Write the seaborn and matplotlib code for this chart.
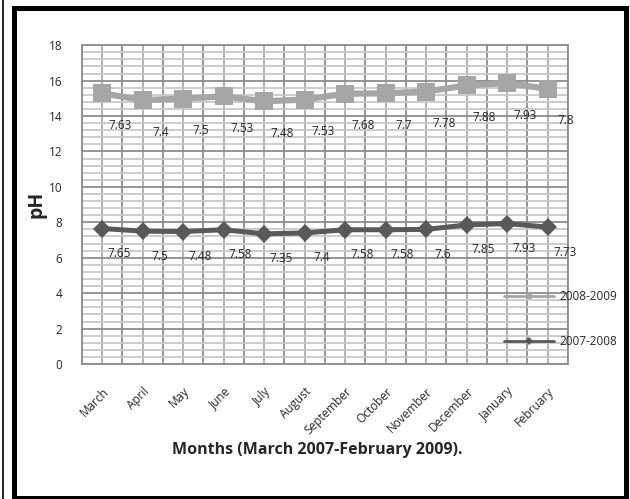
import matplotlib
matplotlib.use("Agg")
import matplotlib.pyplot as plt
import numpy as np
import pandas as pd
import seaborn as sns
from matplotlib.lines import Line2D
from matplotlib.patches import Rectangle
from matplotlib.ticker import MultipleLocator

months = ["March", "April", "May", "June", "July", "August", "September",
          "October", "November", "December", "January", "February"]
ph_2007_2008 = [7.65, 7.5, 7.48, 7.58, 7.35, 7.4, 7.58, 7.58, 7.6, 7.85, 7.93, 7.73]
ph_2008_2009 = [7.63, 7.4, 7.5, 7.53, 7.48, 7.53, 7.68, 7.7, 7.78, 7.88, 7.93, 7.8]
y_ticks = list(range(0, 19, 2))

# stacked line chart: second season sits on top of the first
df = pd.DataFrame({
    "month": months * 2,
    "season": ["2007-2008"] * 12 + ["2008-2009"] * 12,
    "value": ph_2007_2008 + ph_2008_2009,
})
df["stacked"] = df.groupby("month", sort=False)["value"].cumsum()

sns.set_style("white")
plt.rcParams["font.family"] = ["Open Sans", "DejaVu Sans"]

DARK = "#595959"
LIGHT = "#A6A6A6"

fig = plt.figure(figsize=(6.3, 4.99), dpi=100)
ax = fig.add_axes([0.130, 0.2705, 0.7714, 0.639])

styles = {
    "2007-2008": dict(color=DARK, marker="D", markersize=9.5, linewidth=3.6),
    "2008-2009": dict(color=LIGHT, marker="s", markersize=13, linewidth=4.5),
}
for season, sub in df.groupby("season", sort=False):
    st = styles[season]
    sns.lineplot(data=sub, x="month", y="stacked", ax=ax, color=st["color"],
                 marker=st["marker"], markersize=st["markersize"],
                 markeredgewidth=0, linewidth=st["linewidth"], sort=False,
                 legend=False, zorder=3)

# data labels show the raw (unstacked) values
label_offsets = {"2007-2008": (17, -25), "2008-2009": (18, -32)}
for season, sub in df.groupby("season", sort=False):
    for i, (_, row) in enumerate(sub.iterrows()):
        ax.annotate(f"{row['value']:g}", (i, row["stacked"]),
                    xytext=label_offsets[season], textcoords="offset pixels",
                    ha="center", va="center", fontsize=8.5, color="#262626",
                    zorder=4)

ax.set_xlim(-0.5, len(months) - 0.5)
ax.set_ylim(0, 18)
ax.set_yticks(y_ticks)
ax.yaxis.set_minor_locator(MultipleLocator(0.4))
ax.set_xticks(range(len(months)))
ax.set_xticks(np.arange(-0.5, len(months), 1.0), minor=True)
ax.set_xticklabels(months, rotation=45, ha="right", rotation_mode="anchor",
                   fontsize=8.5)
ax.tick_params(axis="y", labelsize=8.5, pad=14)
ax.tick_params(axis="x", pad=15)
ax.tick_params(which="both", length=0, labelcolor="#262626")

ax.set_axisbelow(True)
ax.grid(axis="y", which="major", color="#8C8C8C", linewidth=1.3)
ax.grid(axis="y", which="minor", color="#C8C8C8", linewidth=1.3)
ax.grid(axis="x", which="minor", color="#8C8C8C", linewidth=1.3)
ax.grid(axis="x", which="major", color="#ABABAB", linewidth=1.3)
for sp in ax.spines.values():
    sp.set_color("#8C8C8C")
    sp.set_linewidth(1.3)

ax.set_xlabel("Months (March 2007-February 2009).", fontsize=11.5,
              fontweight="bold")
ax.xaxis.set_label_coords(0.4835, -0.245)
ax.set_ylabel("pH", fontsize=14, fontweight="bold", labelpad=2)

handles = [
    Line2D([], [], color=LIGHT, marker="s", markersize=5, linewidth=2,
           markeredgewidth=0),
    Line2D([], [], color=DARK, marker="D", markersize=4, linewidth=2,
           markeredgewidth=0),
]
ax.legend(handles, ["2008-2009", "2007-2008"], loc="center left",
          bbox_to_anchor=(0.80, 0.3607), bbox_transform=fig.transFigure,
          frameon=False, fontsize=8.5, handlelength=4.2, handletextpad=0.5,
          labelspacing=2.7, borderpad=0, borderaxespad=0)

# outer frame of the figure
fig.patches.append(Rectangle((13.5 / 630, 1.5 / 499), 612 / 630, 490 / 499,
                             transform=fig.transFigure, fill=False,
                             edgecolor="black", linewidth=3.6))
fig.add_artist(Line2D([2.5 / 630, 2.5 / 630], [0, 1], transform=fig.transFigure,
                      color="black", linewidth=1.2))

fig.savefig("out.png", dpi=100)
